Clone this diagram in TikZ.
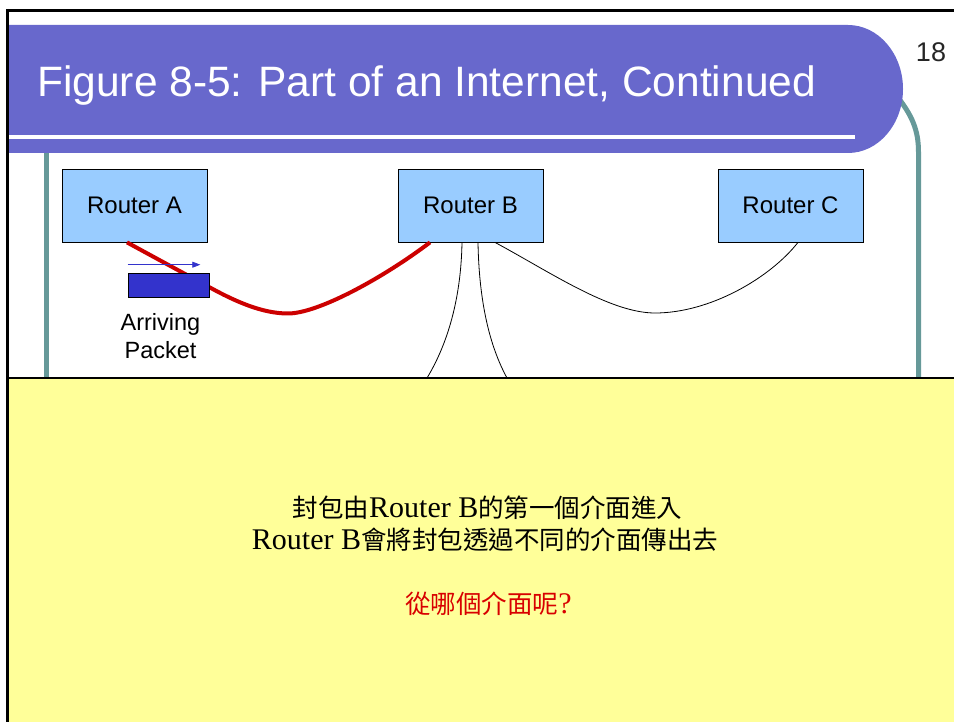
\documentclass[tikz,border=0pt]{standalone}
\usepackage{fontspec}
\usetikzlibrary{arrows.meta}
\newfontfamily\arial{Liberation Sans}
\newfontfamily\tnr{Liberation Serif}
\newfontfamily\cjk{Noto Sans CJK TC}
\newcommand\zh[1]{{\cjk\fontsize{25.5}{30}\selectfont #1}}
\definecolor{banner}{HTML}{6868CC}
\definecolor{tealline}{HTML}{669999}
\definecolor{routerblue}{HTML}{99CCFF}
\definecolor{pktblue}{HTML}{3333CC}
\definecolor{notebg}{HTML}{FFFF99}
\definecolor{linkred}{HTML}{CC0000}
\definecolor{qred}{HTML}{D80000}
\tikzset{
  router/.style={draw=black, fill=routerblue, minimum width=145pt, minimum height=73pt,
    inner sep=0pt, line width=0.8pt, font=\arial\fontsize{24}{28}\selectfont},
  pktbox/.style={draw=black, fill=pktblue, minimum width=81pt, minimum height=24pt,
    inner sep=0pt, line width=0.6pt},
  lbl/.style={inner sep=0pt, font=\arial\fontsize{23.5}{28}\selectfont},
  zhline/.style={inner sep=0pt, font=\tnr\fontsize{30}{32}\selectfont},
  thinlink/.style={draw=black, line width=0.8pt},
  redlink/.style={draw=linkred, line width=4pt, line join=round},
  tealrule/.style={draw=tealline, line width=5pt}
}
\begin{document}
\begin{tikzpicture}[x=1pt, y=-1pt]
\useasboundingbox (0,0) rectangle (954,722);
\fill[white] (0,0) rectangle (954,722);
% teal rules
\draw[tealrule] (46,150) -- (46,378);
\draw[tealrule] (896,95) .. controls (912,115) and (918.5,130) .. (918.5,152) -- (918.5,378);
% banner
\fill[banner] (8,25) -- (848,25) .. controls (878.4,25) and (903,53.7) .. (903,89)
  .. controls (903,124.3) and (878.4,153) .. (848,153) -- (8,153) -- cycle;
\draw[white, line width=4pt] (8,137) -- (855,137);
\node[anchor=base west, inner sep=0pt, text=white, font=\arial\fontsize{42.5}{48}\selectfont] (title) at (37,97) {Figure 8-5: Part of an Internet, Continued};
\node[anchor=base, inner sep=0pt, text=black!85, font=\arial\fontsize{27}{30}\selectfont] (pg) at (931,62) {18};
% routers
\node[router] (ra) at (134.5,205.5) {Router A};
\node[router] (rb) at (470.5,205.5) {Router B};
\node[router] (rc) at (790.5,205.5) {Router C};
% links
\coordinate (d1) at (427,378);
\coordinate (d2) at (507,378);
\draw[redlink] ([xshift=-7.5pt]ra.south) -- (209,287) .. controls (235,301.3) and (262,313.5) .. (288,313.5)
  .. controls (318,313.5) and (383,278) .. ([xshift=-40.5pt]rb.south);
\draw[thinlink] ([xshift=-8.5pt]rb.south) .. controls (461,300) and (447,345) .. (d1);
\draw[thinlink] ([xshift=7.5pt]rb.south) .. controls (479,300) and (489,345) .. (d2);
\draw[thinlink] ([xshift=24.5pt]rb.south) .. controls (550,272) and (610,313) .. (655,313)
  .. controls (710,313) and (770,278) .. ([xshift=7.5pt]rc.south);
% packet
\node[pktbox] (pk) at (168.5,285) {};
\draw[draw=pktblue, line width=0.8pt, -{Triangle[length=8pt,width=6pt]}] ([yshift=8pt]pk.north west) -- ([xshift=-9pt,yshift=8pt]pk.north east);
\node[lbl, anchor=base] (arr1) at (160.5,330.5) {Arriving};
\node[lbl, anchor=base] (arr2) at (160.5,358.5) {Packet};
% note box
\fill[notebg] (8,378) rectangle (954,722);
\draw[black, line width=1.5pt] (8,378) -- (954,378);
\node[zhline, anchor=base] (n1) at (487.5,517) {\zh{封包由}Router B\zh{的第一個介面進入}};
\node[zhline, anchor=base] (n2) at (485,549) {Router B\zh{會將封包透過不同的介面傳出去}};
\node[zhline, anchor=base, text=qred] (n3) at (488.5,613) {\zh{從哪個介面呢}?};
% frame
\draw[black, line width=3pt] (7.5,9) -- (7.5,722);
\draw[black, line width=2.7pt] (6,10.7) -- (954,10.7);
\end{tikzpicture}
\end{document}
